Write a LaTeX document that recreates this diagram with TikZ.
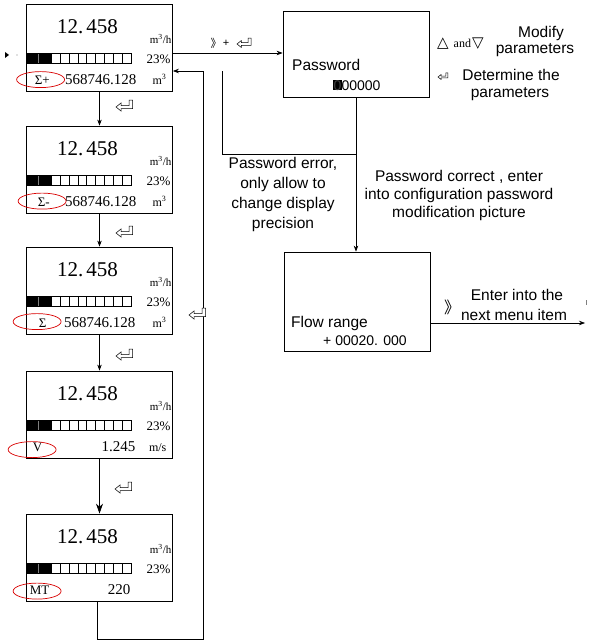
\documentclass[tikz,border=0pt]{standalone}
\usepackage{fontspec}
\setmainfont{Liberation Serif}
\setsansfont{Liberation Sans}
\newfontfamily\cjkf{Noto Sans CJK SC}
\newfontfamily\dejav{DejaVu Sans}
\usetikzlibrary{arrows.meta,calc}
\newcommand\fs[1]{\fontsize{#1}{#1}\selectfont}
\tikzset{
 lcd/.style={draw, line width=0.8pt, minimum width=146pt, minimum height=87pt, inner sep=0pt},
 plainbox/.style={draw, line width=0.8pt, minimum width=146pt, inner sep=0pt},
 txt/.style={inner sep=0pt},
 lbl/.style={inner sep=0pt, font=\sffamily\fs{15.5}},
 arr/.style={line width=0.7pt, -{Stealth[length=6pt,width=4.5pt]}},
 bigarr/.style={line width=0.7pt, -{Stealth[length=10pt,width=7pt]}},
 ln/.style={line width=0.7pt},
 oval/.style={draw=red!85!black, line width=0.7pt},
 retsym/.pic={\draw[line width=0.5pt, fill=white, line join=miter] (0,0) -- (5,-4) -- (5,-1.5) -- (13,-1.5) -- (13,-7) -- (16.5,-7) -- (16.5,1.5) -- (5,1.5) -- (5,4) -- cycle;},
}
% #1 name, #2 top y, #3 label, #4 label x, #5 value, #6 value right x, #7 unit, #8 oval centre
\newcommand\lcd[8]{%
 \node[lcd] (#1) at (99.5,#2+43.5) {};
 \node[txt, anchor=base, font=\fs{21}] (#1-n) at ($(#1.north west)+(61.5,30)$) {12.\kern3pt 458};
 \node[txt, anchor=base east, font=\fs{11}] (#1-u) at ($(#1.north west)+(145.5,39.5)$) {m\textsuperscript{3}/h};
 \node[txt, anchor=base east, font=\fs{13}] (#1-p) at ($(#1.north west)+(144.5,59.5)$) {23\%};
 \fill ($(#1.north west)+(0,50)$) rectangle ($(#1.north west)+(25,60)$);
 \draw[gray, line width=0.4pt] ($(#1.north west)+(12.5,50)$) -- ++(0,10);
 \foreach \i in {0,...,8} \draw[line width=0.6pt] ($(#1.north west)+(25+\i*8.9,50)$) rectangle ++(8.9,10);
 \draw[line width=0.6pt] ($(#1.north west)+(0,50)$) rectangle ($(#1.north west)+(105.1,60)$);
 \node[txt, anchor=base west, font=\fs{13}] (#1-l) at ($(#1.north west)+(#4,81)$) {#3};
 \node[txt, anchor=base east, font=\fs{15}] (#1-v) at ($(#1.north west)+(#6,81)$) {#5};
 \node[txt, anchor=base east, font=\fs{12}] (#1-m) at ($(#1.north west)+(140.5,80.5)$) {#7};
 \draw[oval] ($(#1.north west)+(#8)$) ellipse [x radius=24, y radius=8];
}
\begin{document}
\begin{tikzpicture}[x=1pt,y=-1pt]
\fill[white] (0,0) rectangle (590,642);
\useasboundingbox (0,0) rectangle (590,642);

% display screens
\lcd{d1}{4}{Σ+}{8.5}{568746.128}{110.5}{m\textsuperscript{3}}{14.5,76}
\lcd{d2}{126}{Σ-}{11.5}{568746.128}{110.5}{m\textsuperscript{3}}{16,75.5}
\lcd{d3}{247}{Σ}{12.5}{568746.128}{109.5}{m\textsuperscript{3}}{11,75}
\lcd{d4}{371}{V}{6.5}{1.245}{109.5}{m/s}{6,79}
\lcd{d5}{514}{MT}{3.5}{220}{104.5}{}{11,77.5}

\draw[arr] (d1) -- (d2);
\draw[arr] (d2) -- (d3);
\draw[arr] (d3) -- (d4);
\draw[bigarr] (d4) -- (d5);
\pic at (116,107) {retsym};
\pic at (116,233) {retsym};
\pic at (116,356) {retsym};
\pic at (115,489) {retsym};

% password box
\node[plainbox, minimum height=86pt] (pw) at (356,54) {};
\node[lbl, anchor=base west] (pwt) at (292,70.5) {Password};
\node[txt, anchor=base west, font=\sffamily\fs{14}] (pwv) at (333,90) {{\setlength\fboxsep{0.3pt}\colorbox{black}{\textcolor{black!75}{0}}}00000};

% flow range box
\node[plainbox, minimum height=99pt] (fr) at (357,301.5) {};
\node[lbl, anchor=base west] (frt) at (291,327.5) {Flow range};
\node[txt, anchor=base west, font=\sffamily\fs{14}] (frv) at (323,345) {+ 00020. 000};

% connectors
\coordinate (a1) at ([yshift=-5.5pt]d1.east);
\draw[arr] (a1) -- (a1 -| pw.west);
\coordinate (a2) at ([yshift=-23.5pt]d1.east);
\coordinate (lb) at (203,639);
\draw[arr] ([xshift=-2.5pt]d5.south) |- (lb) |- (a2);
\draw[arr] (pw.south) -- (pw.south |- fr.north);
\coordinate (j1) at (356,154);
\coordinate (j2) at (222,71);
\draw[ln] (j1) -| (j2);
\coordinate (a3) at ([yshift=-21.5pt]fr.east);
\coordinate (fe) at (585,323);
\draw[arr] (a3) -- (fe);
\pic at (189,315) {retsym};

% arrow label to password
\node[txt, font=\cjkf\fs{11}] (k1) at (216,43) {》};
\node[txt, font=\sffamily\fs{11}] (k2) at (226,43) {+};
\pic[scale=0.85] at (237,44) {retsym};

% key hints
\node[txt, anchor=west] (tri) at (437,44) {{\dejav\fs{15}△}\kern5pt{\fs{12}and}\kern1pt{\dejav\fs{15}▽}};
\node[lbl] (mod1) at (541,33) {Modify};
\node[lbl] (mod2) at (535,50) {parameters};
\pic[scale=0.6] at (438,77) {retsym};
\node[lbl] (det1) at (511,75) {Determine the};
\node[lbl] (det2) at (510,94) {parameters};

% branch texts
\node[txt, align=center, font=\sffamily\fontsize{15.5}{19.7}\selectfont] (err) at (283,194.5) {Password error,\\only allow to\\change display\\precision};
\node[txt, align=center, font=\sffamily\fontsize{15.5}{18}\selectfont] (ok) at (459,195) {Password correct , enter\\into configuration password\\modification picture};

% next menu
\node[txt, font=\cjkf\fs{16}] (k3) at (452,307) {》};
\node[lbl] (nx1) at (517,295) {Enter into the};
\node[lbl] (nx2) at (514,315) {next menu item};

% small marks
\fill (5,52) -- (9,55) -- (5,58) -- cycle;
\fill[gray] (17,55) circle (0.6);
\draw[gray, line width=0.8pt] (586,300) -- (586,305);
\end{tikzpicture}
\end{document}
